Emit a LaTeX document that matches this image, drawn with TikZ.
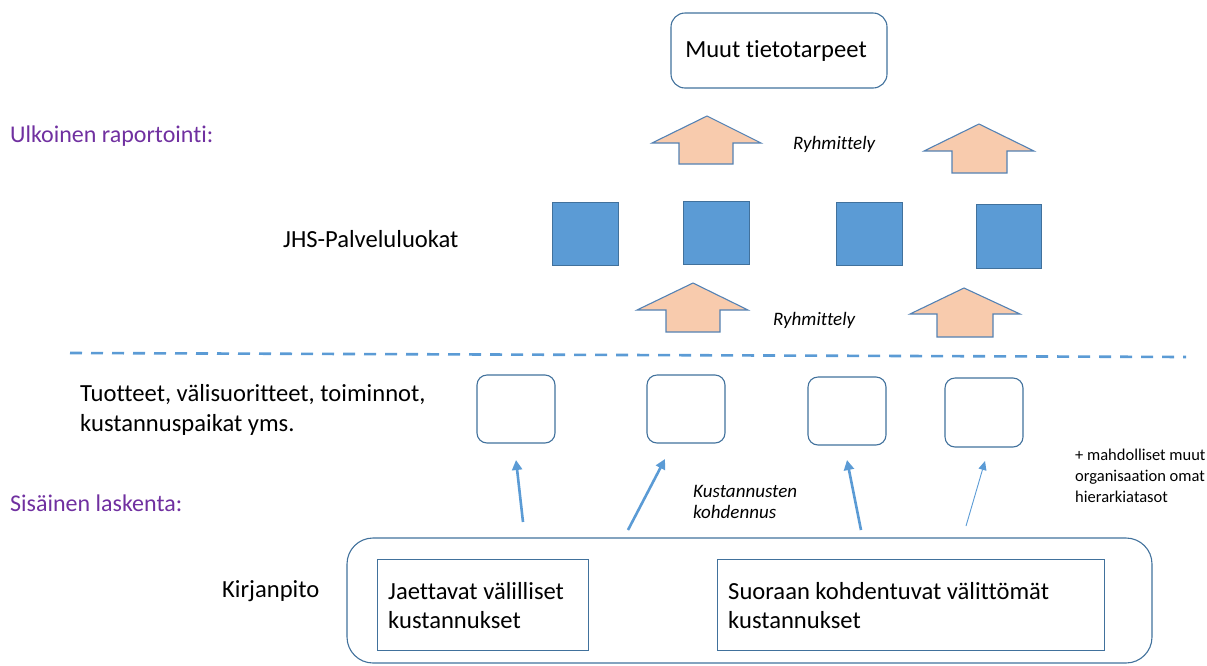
\documentclass[tikz,border=0pt]{standalone}
\usepackage{fontspec}
\setmainfont{Carlito}[Ligatures={NoCommon}]
\usetikzlibrary{arrows.meta}
\definecolor{purp}{RGB}{112,48,160}
\definecolor{bborder}{RGB}{65,113,156}
\definecolor{bfill}{RGB}{91,155,213}
\definecolor{peach}{RGB}{248,203,173}
\definecolor{aline}{RGB}{84,130,180}
\tikzset{
  rbox/.style={draw=bborder, line width=1.1pt, rounded corners=10pt, inner sep=0pt},
  sq/.style={draw=bborder, fill=bfill, line width=1pt, inner sep=0pt},
  blockarrow/.style={draw=aline, fill=peach, line width=1.1pt, line join=miter},
  txt/.style={inner sep=0pt, anchor=west, text=black},
  bigf/.style={font=\fontsize{24.6}{29}\selectfont},
  ptxt/.style={inner sep=0pt, anchor=west, text=purp, font=\fontsize{24}{28}\selectfont},
  conn/.style={draw=bfill, line width=2.6pt, -{Triangle[length=10pt,width=10pt]}},
  thinconn/.style={draw=bfill, line width=0.9pt, -{Triangle[length=9pt,width=8pt]}},
}
\begin{document}
\begin{tikzpicture}[x=1pt,y=-1pt]
\useasboundingbox (0,0) rectangle (1207,665);
% top box
\node[rbox, minimum width=216pt, minimum height=75pt, rounded corners=14pt] (top) at (779,50.5) {};
\node[inner sep=0pt, bigf] (toptxt) at (776,51) {Muut tietotarpeet};
% side labels
\node[ptxt] (ulk) at (10,136) {Ulkoinen raportointi:};
\node[ptxt] (sis) at (10,503) {Sisäinen laskenta:};
\node[txt, bigf] (jhs) at (283,239) {JHS-Palveluluokat};
\node[txt, bigf, font=\fontsize{24.6}{30}\selectfont, align=left] (tuot) at (80,410) {Tuotteet, välisuoritteet, toiminnot,\\kustannuspaikat yms.};
\node[txt, bigf] (kirj) at (222,591) {Kirjanpito};
% block arrows
\draw[blockarrow] (707,116) -- (761,143) -- (733,143) -- (733,164) -- (679,164) -- (679,143) -- (652,143) -- cycle;
\draw[blockarrow] (979,124) -- (1034,151) -- (1007,151) -- (1007,173) -- (952,173) -- (952,151) -- (924,151) -- cycle;
\draw[blockarrow] (693,283) -- (748,310) -- (720,310) -- (720,332) -- (666,332) -- (666,310) -- (637,310) -- cycle;
\draw[blockarrow] (964,288) -- (1020,314) -- (993,314) -- (993,337) -- (937,337) -- (937,314) -- (910,314) -- cycle;
\node[txt, font=\fontsize{19}{22}\selectfont\itshape] (ryh1) at (793,144) {Ryhmittely};
\node[txt, font=\fontsize{19}{22}\selectfont\itshape] (ryh2) at (773,320) {Ryhmittely};
% blue squares
\node[sq, minimum width=66pt, minimum height=63pt] (s1) at (585,233.5) {};
\node[sq, minimum width=66pt, minimum height=63pt] (s2) at (716,232.5) {};
\node[sq, minimum width=66pt, minimum height=63pt] (s3) at (869,233.5) {};
\node[sq, minimum width=65pt, minimum height=64pt] (s4) at (1008.5,236) {};
% dashed line
\coordinate (dl) at (70,353);
\coordinate (dr) at (1186,357);
\draw[draw=bfill, line width=2.6pt, dash pattern=on 12pt off 9pt] (dl) -- (dr);
% small rounded boxes
\node[rbox, minimum width=78pt, minimum height=68pt] (b1) at (516,409) {};
\node[rbox, minimum width=78pt, minimum height=68pt] (b2) at (686,409) {};
\node[rbox, minimum width=78pt, minimum height=68pt] (b3) at (847,411) {};
\node[rbox, minimum width=78pt, minimum height=69pt] (b4) at (984,412.5) {};
% connector ends
\coordinate (t1) at (523,522); \coordinate (h1) at (516,460);
\coordinate (t2) at (628,530); \coordinate (h2) at (665,459);
\coordinate (t3) at (861,530); \coordinate (h3) at (847,460);
\coordinate (t4) at (966,526); \coordinate (h4) at (985,461);
\draw[conn] (t1) -- (h1);
\draw[conn] (t2) -- (h2);
\draw[conn] (t3) -- (h3);
\draw[thinconn] (t4) -- (h4);
\node[txt, font=\fontsize{19}{21}\selectfont\itshape, align=left] (kust) at (693,501.5) {Kustannusten\\kohdennus};
\node[txt, font=\fontsize{16.5}{21}\selectfont, align=left] (mahd) at (1075,476) {+ mahdolliset muut\\organisaation omat\\hierarkiatasot};
% bottom big box
\node[rbox, minimum width=805pt, minimum height=125pt, rounded corners=26pt] (big) at (749.5,600.5) {};
\node[draw=bborder, line width=1pt, minimum width=211pt, minimum height=91pt, inner sep=0pt] (ib1) at (482.5,605) {};
\node[draw=bborder, line width=1pt, minimum width=387pt, minimum height=91pt, inner sep=0pt] (ib2) at (910.5,605) {};
\node[txt, bigf, align=left] (jt) at (388,606) {Jaettavat välilliset\\kustannukset};
\node[txt, bigf, align=left] (st) at (728,606) {Suoraan kohdentuvat välittömät\\kustannukset};
\end{tikzpicture}
\end{document}
